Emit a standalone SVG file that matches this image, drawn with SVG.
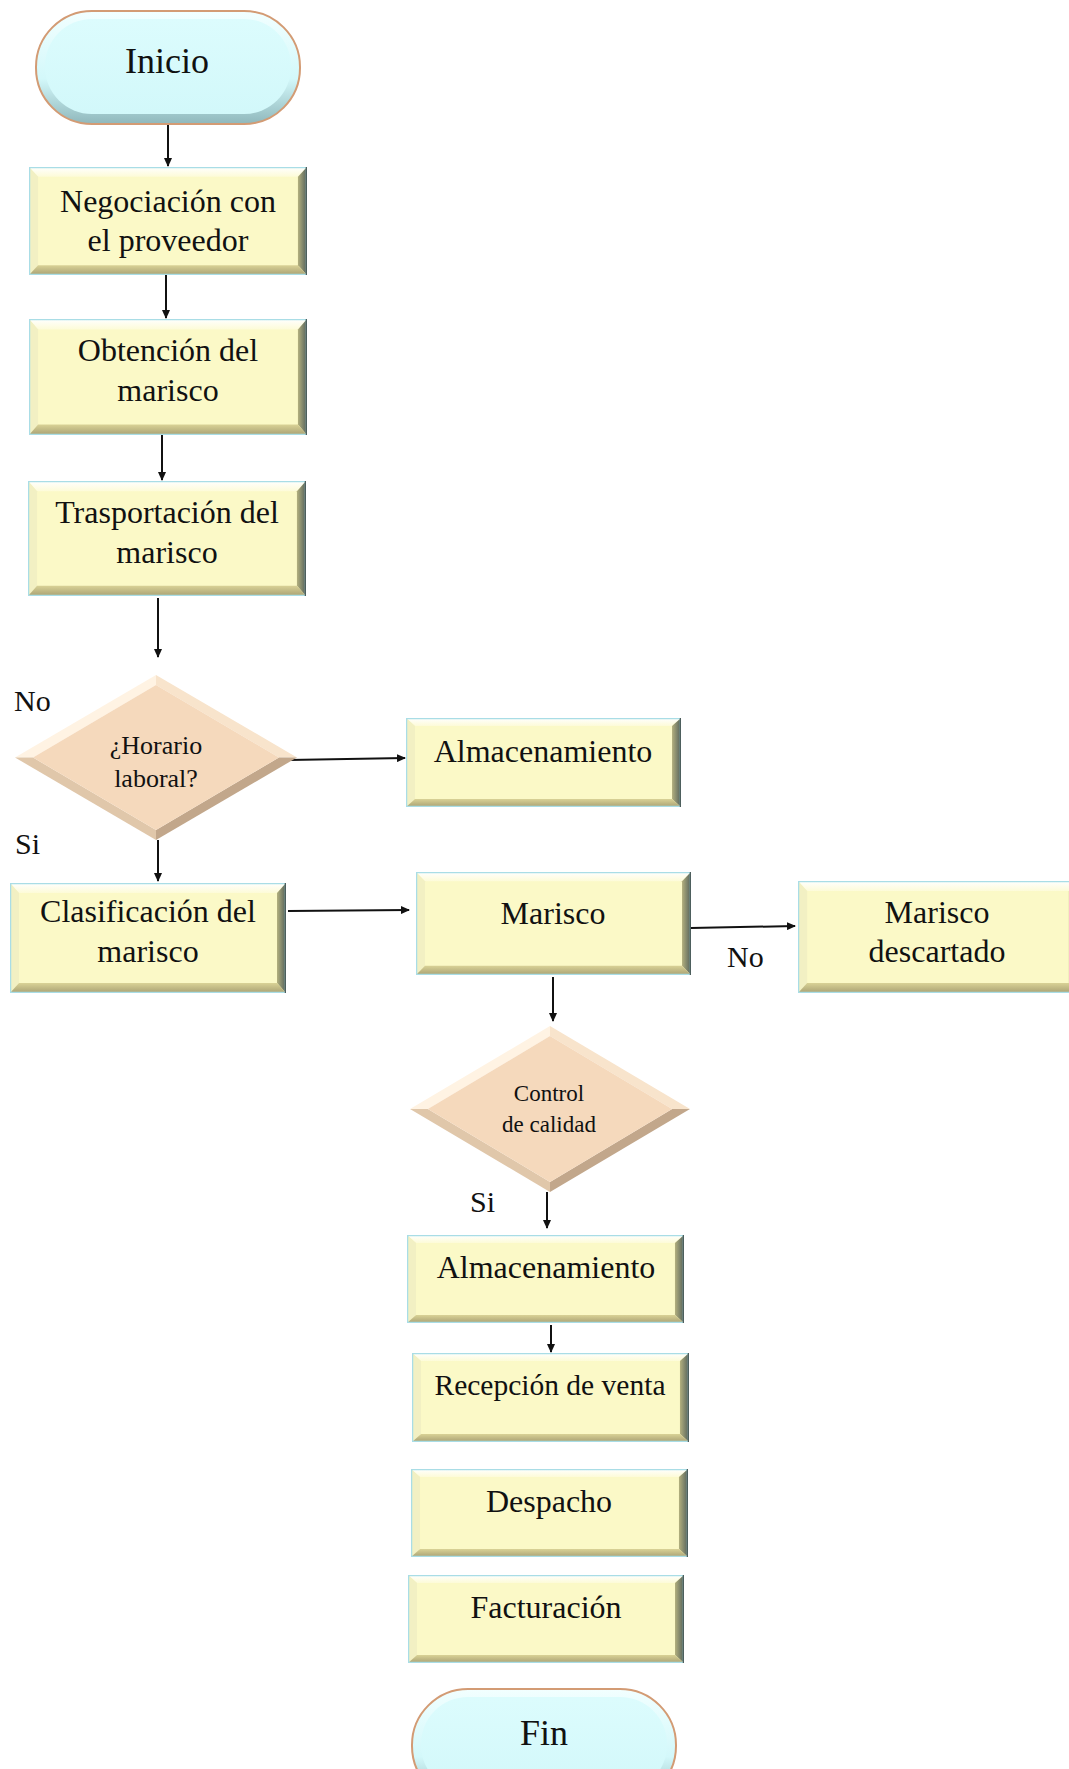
<svg xmlns="http://www.w3.org/2000/svg" xmlns:xlink="http://www.w3.org/1999/xlink" width="1069" height="1769" viewBox="0 0 1069 1769">
<style>
  .t { font-family: "Liberation Serif", "Times New Roman", serif; fill: #111; text-anchor: middle; }
  .bx { font-size: 32px; }
  .bxs { font-size: 29.5px; }
  .tm { font-size: 36px; }
  .dm { font-size: 26px; }
  .dm2 { font-size: 23px; }
  .lb { font-family: "Liberation Serif", "Times New Roman", serif; font-size: 30px; fill: #111; }
  .c { stroke: #111; stroke-width: 2; fill: none; marker-end: url(#ah); }
</style>
<defs>
  <marker id="ah" markerUnits="userSpaceOnUse" markerWidth="9" markerHeight="8" refX="8" refY="4" orient="auto">
    <path d="M0,0 L9,4 L0,8 z" fill="#111"/>
  </marker>
  <linearGradient id="gTop" x1="0" y1="0" x2="0" y2="1">
    <stop offset="0" stop-color="#ffffff"/>
    <stop offset="1" stop-color="#fdfbd8"/>
  </linearGradient>
  <linearGradient id="gRight" x1="0" y1="0" x2="1" y2="0">
    <stop offset="0" stop-color="#b3b07e"/>
    <stop offset="1" stop-color="#55625b"/>
  </linearGradient>
  <linearGradient id="gBot" x1="0" y1="0" x2="0" y2="1">
    <stop offset="0" stop-color="#d9d296"/>
    <stop offset="1" stop-color="#a9a173"/>
  </linearGradient>
  <linearGradient id="gTermOuter" x1="0" y1="0" x2="0" y2="1">
    <stop offset="0" stop-color="#f2ffff"/>
    <stop offset="0.6" stop-color="#d3f8fa"/>
    <stop offset="1" stop-color="#8fb8bc"/>
  </linearGradient>
  <linearGradient id="gTermInner" x1="0" y1="0" x2="0" y2="1">
    <stop offset="0" stop-color="#dcfcfd"/>
    <stop offset="1" stop-color="#d2f8fa"/>
  </linearGradient>
  <symbol id="box" viewBox="0 0 276 100" preserveAspectRatio="none">
    <rect x="0" y="0" width="276" height="100" fill="#fbf9c7"/>
    <polygon points="0,0 276,0 267,9 9,9" fill="url(#gTop)"/>
    <polygon points="0,0 9,9 9,91 0,100" fill="#f2f0c3"/>
    <polygon points="276,0 276,100 267,91 267,9" fill="url(#gRight)"/>
    <polygon points="0,100 9,91 267,91 276,100" fill="url(#gBot)"/>
    <rect x="0.5" y="0.5" width="275" height="99" fill="none" stroke="#a9dde6" stroke-width="1.5" vector-effect="non-scaling-stroke"/>
    <line x1="275.5" y1="0" x2="275.5" y2="100" stroke="#4d5f5d" stroke-width="1.5" vector-effect="non-scaling-stroke"/>
  </symbol>
  <symbol id="term" viewBox="0 0 266 115" preserveAspectRatio="none">
    <rect x="1" y="1" width="264" height="113" rx="56" ry="56" fill="url(#gTermOuter)" stroke="#d39b74" stroke-width="2"/>
    <rect x="10" y="9" width="246" height="95" rx="47" ry="47" fill="url(#gTermInner)"/>
  </symbol>
  <symbol id="dia" viewBox="0 0 282 165" preserveAspectRatio="none">
    <polygon points="141,0 0,82.5 18,82.5 141,10" fill="#fff3e3"/>
    <polygon points="141,0 282,82.5 264,82.5 141,10" fill="#f8e4cc"/>
    <polygon points="282,82.5 141,165 141,155 264,82.5" fill="#c2a78b"/>
    <polygon points="141,165 0,82.5 18,82.5 141,155" fill="#e0c7aa"/>
    <polygon points="141,10 264,82.5 141,155 18,82.5" fill="#f5d9bc"/>
  </symbol>
</defs>

<g id="connectors">
  <line class="c" x1="168" y1="125" x2="168" y2="166"/>
  <line class="c" x1="166" y1="275" x2="166" y2="318"/>
  <line class="c" x1="162" y1="420" x2="162" y2="480"/>
  <line class="c" x1="158" y1="598" x2="158" y2="657"/>
  <line class="c" x1="289" y1="760" x2="405" y2="758"/>
  <line class="c" x1="158" y1="840" x2="158" y2="881"/>
  <line class="c" x1="288" y1="911" x2="409" y2="910"/>
  <line class="c" x1="691" y1="928" x2="795" y2="926"/>
  <line class="c" x1="553" y1="977" x2="553" y2="1021"/>
  <line class="c" x1="547" y1="1192" x2="547" y2="1228"/>
  <line class="c" x1="551" y1="1325" x2="551" y2="1352"/>
</g>

<g id="labels">
  <text class="lb" x="14" y="711">No</text>
  <text class="lb" x="15" y="854">Si</text>
  <text class="lb" x="727" y="967">No</text>
  <text class="lb" x="470" y="1212">Si</text>
</g>

<g id="n-inicio">
  <use xlink:href="#term" x="35" y="10" width="266" height="115"/>
  <text class="t tm" x="167" y="73">Inicio</text>
</g>
<g id="n-negociacion">
  <use xlink:href="#box" x="29" y="167" width="278" height="108"/>
  <text class="t bx" x="168" y="212">Negociación con</text>
  <text class="t bx" x="168" y="251">el proveedor</text>
</g>
<g id="n-obtencion">
  <use xlink:href="#box" x="29" y="319" width="278" height="116"/>
  <text class="t bx" x="168" y="361">Obtención del</text>
  <text class="t bx" x="168" y="401">marisco</text>
</g>
<g id="n-trasportacion">
  <use xlink:href="#box" x="28" y="481" width="278" height="115"/>
  <text class="t bx" x="167" y="523">Trasportación del</text>
  <text class="t bx" x="167" y="563">marisco</text>
</g>
<g id="n-horario">
  <use xlink:href="#dia" x="15" y="675" width="282" height="165"/>
  <text class="t dm" x="156" y="754">¿Horario</text>
  <text class="t dm" x="156" y="787">laboral?</text>
</g>
<g id="n-almacenamiento1">
  <use xlink:href="#box" x="406" y="718" width="275" height="89"/>
  <text class="t bx" x="543" y="762">Almacenamiento</text>
</g>
<g id="n-clasificacion">
  <use xlink:href="#box" x="10" y="883" width="276" height="110"/>
  <text class="t bx" x="148" y="922">Clasificación del</text>
  <text class="t bx" x="148" y="962">marisco</text>
</g>
<g id="n-marisco">
  <use xlink:href="#box" x="416" y="872" width="275" height="103"/>
  <text class="t bx" x="553" y="924">Marisco</text>
</g>
<g id="n-descartado">
  <use xlink:href="#box" x="798" y="881" width="280" height="112"/>
  <text class="t bx" x="937" y="923">Marisco</text>
  <text class="t bx" x="937" y="962">descartado</text>
</g>
<g id="n-control">
  <use xlink:href="#dia" x="410" y="1026" width="280" height="166"/>
  <text class="t dm2" x="549" y="1101">Control</text>
  <text class="t dm2" x="549" y="1132">de calidad</text>
</g>
<g id="n-almacenamiento2">
  <use xlink:href="#box" x="407" y="1235" width="277" height="88"/>
  <text class="t bx" x="546" y="1278">Almacenamiento</text>
</g>
<g id="n-recepcion">
  <use xlink:href="#box" x="412" y="1353" width="277" height="89"/>
  <text class="t bxs" x="550" y="1395">Recepción de venta</text>
</g>
<g id="n-despacho">
  <use xlink:href="#box" x="411" y="1469" width="277" height="88"/>
  <text class="t bx" x="549" y="1512">Despacho</text>
</g>
<g id="n-facturacion">
  <use xlink:href="#box" x="408" y="1575" width="276" height="88"/>
  <text class="t bx" x="546" y="1618">Facturación</text>
</g>
<g id="n-fin">
  <use xlink:href="#term" x="411" y="1688" width="266" height="115"/>
  <text class="t tm" x="544" y="1745">Fin</text>
</g>
</svg>
